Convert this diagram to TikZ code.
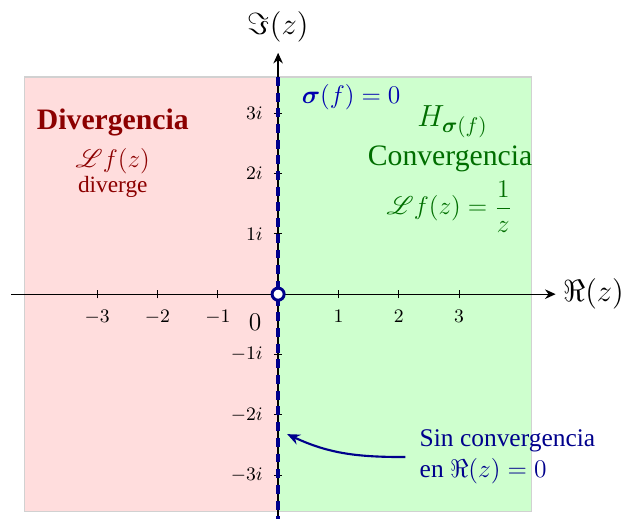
\documentclass[tikz,border=0pt]{standalone}
\usepackage{amsmath}
\usepackage{mathrsfs}
\usepackage{fontspec}
\setmainfont{Liberation Serif}
\usetikzlibrary{arrows.meta}
\definecolor{pinkbg}{RGB}{255,221,221}
\definecolor{greenbg}{RGB}{206,255,206}
\definecolor{divred}{RGB}{140,0,0}
\definecolor{convgreen}{RGB}{0,110,0}
\definecolor{sigblue}{RGB}{0,0,175}
\definecolor{navy}{RGB}{0,0,140}
\tikzset{
  region/.style={draw=black!18, line width=0.6pt},
  axis/.style={line width=0.6pt, -{Stealth[length=5pt,width=4.5pt]}},
  tickx/.style={font=\fontsize{9.5}{11}\selectfont, anchor=north, inner sep=0pt},
  ticky/.style={font=\fontsize{9.5}{11}\selectfont, anchor=east, inner sep=0pt},
  critline/.style={navy, line width=1.8pt, dash pattern=on 4.2pt off 3.2pt},
}
\begin{document}
\begin{tikzpicture}
\useasboundingbox (-4.61,-3.715) rectangle (5.70,4.876);
% regions
\fill[pinkbg] (-4.2,-3.6) rectangle (0,3.6);
\fill[greenbg] (0,-3.6) rectangle (4.2,3.6);
\draw[region] (-4.2,-3.6) rectangle (4.2,3.6);
% axes
\coordinate (xs) at (-4.42,0);
\coordinate (xe) at (4.6,0);
\coordinate (ys) at (0,-3.75);
\coordinate (ye) at (0,4.0);
\draw[axis] (xs) -- (xe);
\draw[axis] (ys) -- (ye);
\node[font=\fontsize{14}{16}\selectfont, anchor=west, inner sep=0pt] (re) at (4.72,0) {$\Re(z)$};
\node[font=\fontsize{14}{16}\selectfont, inner sep=0pt] (im) at (0,4.43) {$\Im(z)$};
% ticks
\foreach \x in {-3,-2,-1,1,2,3} {
  \draw[line width=0.5pt] (\x,-0.07) -- (\x,0.07);
  \node[tickx] (tx\x) at (\x,-0.26) {$\x$};
}
\foreach \y in {-3,-2,-1,1,2,3} {
  \draw[line width=0.5pt] (-0.07,\y) -- (0.07,\y);
  \node[ticky] (ty\y) at (-0.25,\y) {$\y i$};
}
\node[font=\fontsize{11.5}{13}\selectfont, inner sep=0pt] (zero) at (-0.38,-0.46) {$0$};
% critical line
\coordinate (ctop) at (0,3.6);
\coordinate (cbot) at (0,-3.72);
\draw[critline] (ctop) -- (cbot);
\node[circle, draw=navy, fill=white, line width=1.4pt, minimum size=0.2cm, inner sep=0pt] (o) at (0,0) {};
% texts left
\node[divred, font=\fontsize{14}{16}\selectfont\bfseries, inner sep=0pt] (div) at (-2.74,2.84) {Divergencia};
\node[divred, font=\fontsize{12}{14}\selectfont, inner sep=0pt] (lf) at (-2.74,2.2) {$\mathscr{L}f(z)$};
\node[divred, font=\fontsize{11}{13}\selectfont, inner sep=0pt] (dv) at (-2.74,1.78) {diverge};
% texts right
\node[sigblue, font=\fontsize{12.5}{14}\selectfont, inner sep=0pt] (sig) at (1.21,3.27) {$\boldsymbol{\sigma}(f)=0$};
\node[convgreen, font=\fontsize{14}{16}\selectfont, inner sep=0pt] (H) at (2.89,2.86) {$H_{\boldsymbol{\sigma}(f)}$};
\node[convgreen, font=\fontsize{14}{16}\selectfont, inner sep=0pt] (conv) at (2.85,2.25) {Convergencia};
\node[convgreen, font=\fontsize{12.5}{14}\selectfont, inner sep=0pt] (lfz) at (2.84,1.45) {$\mathscr{L}f(z)=\dfrac{1}{z}$};
% annotation
\node[navy, font=\fontsize{12}{14.5}\selectfont, align=left, anchor=west, inner sep=0pt] (sin) at (2.34,-2.69) {Sin convergencia\\en $\Re(z)=0$};
\coordinate (astart) at (2.11,-2.70);
\coordinate (tip) at (0.15,-2.32);
\draw[navy, line width=1pt, -{Stealth[length=6pt,width=5pt]}] (astart) to[out=180,in=-25] (tip);
\end{tikzpicture}
\end{document}
